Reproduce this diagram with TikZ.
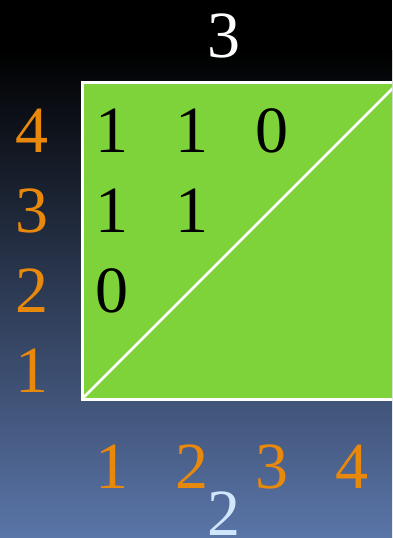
\documentclass[tikz,border=0pt]{standalone}
\usepackage{fontspec}
\setmainfont{Liberation Serif}
\newfontfamily\digitfont{Liberation Serif}
\definecolor{sqgreen}{RGB}{126,211,59}
\definecolor{numorange}{RGB}{232,137,12}
\definecolor{lightblue}{RGB}{208,230,250}
\definecolor{bgbottom}{RGB}{90,117,168}
\begin{document}
\begin{tikzpicture}[x=1pt,y=-1pt,
  num/.style={anchor=base,inner sep=0pt,font=\digitfont\fontsize{66}{66}\selectfont},
  axisnum/.style={num,text=numorange},
  cellnum/.style={num,text=black}]
\useasboundingbox (0,0) rectangle (392,538);
\clip (0,0) rectangle (392,538);
\fill[black] (0,0) rectangle (392,50);
\shade[top color=black,bottom color=bgbottom] (0,50) rectangle (392,538);
% square
\fill[sqgreen] (82,82) rectangle (399,399);
\draw[white,line width=3pt] (82,82) rectangle (399,399);
\coordinate (bl) at (82,399);
\coordinate (tr) at (399,82);
\draw[white,line width=2.5pt] (bl) -- (tr);
% labels
\node[num,text=white] (top) at (224,57) {3};
\node[axisnum] (l4) at (32,152) {4};
\node[axisnum] (l3) at (32,232) {3};
\node[axisnum] (l2) at (32,312) {2};
\node[axisnum] (l1) at (32,392) {1};
\node[cellnum] (c11) at (112,152) {1};
\node[cellnum] (c12) at (192,152) {1};
\node[cellnum] (c13) at (272,152) {0};
\node[cellnum] (c21) at (112,232) {1};
\node[cellnum] (c22) at (192,232) {1};
\node[cellnum] (c31) at (112,312) {0};
\node[axisnum] (b1) at (112,488) {1};
\node[axisnum] (b2) at (192,488) {2};
\node[axisnum] (b3) at (272,488) {3};
\node[axisnum] (b4) at (352,488) {4};
\node[num,text=lightblue] (bot) at (224,535) {2};
\end{tikzpicture}
\end{document}
